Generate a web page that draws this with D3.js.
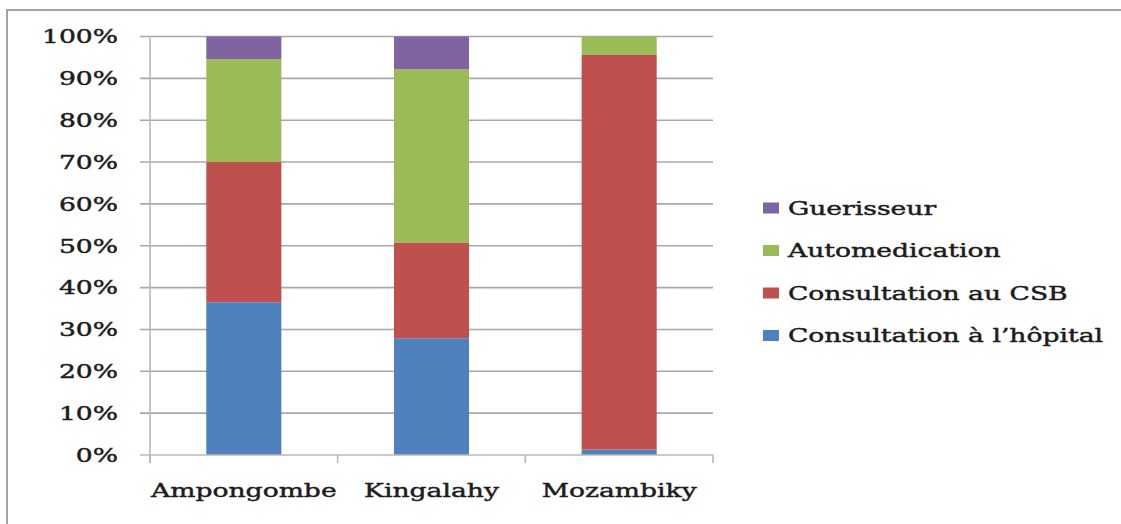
<!DOCTYPE html>
<html>
<head>
<meta charset="utf-8">
<script src="https://cdn.jsdelivr.net/npm/d3@7"></script>
<style>
  html, body { margin: 0; padding: 0; background: #fff; }
  svg { display: block; }
  text { font-family: "DejaVu Serif", serif; fill: #1c1c1c; stroke: #1c1c1c; stroke-width: 0.45px; }
</style>
</head>
<body>
<svg id="chart" width="1121" height="524"></svg>
<script>
// Sites surveyed
const categories = ["Ampongombe", "Kingalahy", "Mozambiky"];

// Share of each care-seeking behaviour per site (%)
const hopital      = [36.5, 27.9, 1.3];
const csb          = [33.5, 22.9, 94.3];
const automedic    = [24.6, 41.4, 4.4];
const guerisseur   = [5.4, 7.8, 0.0];

const seriesNames  = ["Consultation à l\u2019hôpital", "Consultation au CSB", "Automedication", "Guerisseur"];
const seriesColors = ["#4f81bd", "#c0504d", "#9bbb59", "#8064a2"];
const seriesValues = [hopital, csb, automedic, guerisseur];

const yTicks = [0, 10, 20, 30, 40, 50, 60, 70, 80, 90, 100];

const svg = d3.select("#chart");
const textScaleX = 1.4;   // the chart's typeface is set wide
const fontSize = 19;

// Outer frame of the chart object
svg.append("path")
  .attr("d", "M7,530 V10 H1130")
  .attr("fill", "none")
  .attr("stroke", "#a3a3a3")
  .attr("stroke-width", 2);

const plot = { left: 150, right: 713, top: 36.5, bottom: 455 };

const x = d3.scaleBand()
  .domain(categories)
  .range([plot.left, plot.right])
  .paddingInner(0.6)
  .paddingOuter(0.3);

const y = d3.scaleLinear()
  .domain([0, 100])
  .range([plot.bottom, plot.top]);

// Stack the series
const table = categories.map((c, i) => {
  const row = { cat: c };
  seriesNames.forEach((s, k) => { row[s] = seriesValues[k][i]; });
  return row;
});
const stacked = d3.stack().keys(seriesNames)(table);

// Gridlines with small left tick
svg.append("g")
  .selectAll("line")
  .data(yTicks.filter(t => t > 0))
  .join("line")
  .attr("x1", plot.left - 10)
  .attr("x2", plot.right)
  .attr("y1", d => y(d))
  .attr("y2", d => y(d))
  .attr("stroke", "#a8a8a8")
  .attr("stroke-width", 1.6);

// Bars
svg.append("g")
  .selectAll("g")
  .data(stacked)
  .join("g")
  .attr("fill", (d, i) => seriesColors[i])
  .selectAll("rect")
  .data(d => d)
  .join("rect")
  .attr("x", d => x(d.data.cat))
  .attr("width", x.bandwidth())
  .attr("y", d => y(d[1]))
  .attr("height", d => y(d[0]) - y(d[1]));

// Axes lines
const axisColor = "#b8b8b8";
svg.append("line")
  .attr("x1", plot.left).attr("x2", plot.left)
  .attr("y1", plot.top).attr("y2", plot.bottom + 8)
  .attr("stroke", axisColor).attr("stroke-width", 1.6);
svg.append("line")
  .attr("x1", plot.left - 10).attr("x2", plot.right)
  .attr("y1", plot.bottom).attr("y2", plot.bottom)
  .attr("stroke", axisColor).attr("stroke-width", 1.6);

// Category separators below the x axis
const sepX = d3.range(categories.length + 1).map(i => plot.left + (plot.right - plot.left) * i / categories.length);
svg.append("g")
  .selectAll("line")
  .data(sepX)
  .join("line")
  .attr("x1", d => d).attr("x2", d => d)
  .attr("y1", plot.bottom).attr("y2", plot.bottom + 8)
  .attr("stroke", axisColor).attr("stroke-width", 1.6);

// Y tick labels
svg.append("g")
  .selectAll("text")
  .data(yTicks)
  .join("text")
  .attr("transform", d => `translate(118,${y(d)}) scale(${textScaleX},1)`)
  .attr("dy", "0.36em")
  .attr("text-anchor", "end")
  .attr("font-size", fontSize)
  .text(d => d + "%");

// Category labels
svg.append("g")
  .selectAll("text")
  .data(categories)
  .join("text")
  .attr("transform", d => `translate(${x(d) + x.bandwidth() / 2},497) scale(${textScaleX},1)`)
  .attr("text-anchor", "middle")
  .attr("font-size", fontSize)
  .text(d => d);

// Legend, top entry is the top of the stack
const legendItems = seriesNames.map((n, i) => ({ name: n, color: seriesColors[i] })).reverse();
const legend = svg.append("g")
  .selectAll("g")
  .data(legendItems)
  .join("g")
  .attr("transform", (d, i) => `translate(763,${208 + i * 42.5})`);
legend.append("rect")
  .attr("x", 0).attr("y", -5.5)
  .attr("width", 16).attr("height", 11)
  .attr("fill", d => d.color);
legend.append("text")
  .attr("transform", `translate(25,0) scale(${textScaleX},1)`)
  .attr("dy", "0.36em")
  .attr("font-size", fontSize)
  .text(d => d.name);
</script>
</body>
</html>
